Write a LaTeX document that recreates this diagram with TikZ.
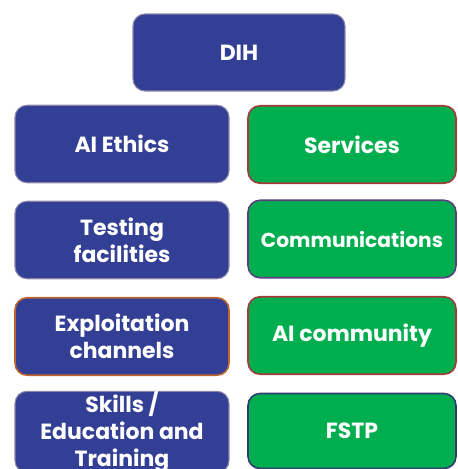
\documentclass[tikz,border=0pt]{standalone}
\usepackage{fontspec}
\setsansfont{Poppins}
\usepackage{xcolor}
\usepackage{tikz}

\definecolor{dihblue}{HTML}{333F95}
\definecolor{dihgreen}{HTML}{00AE4F}
\definecolor{edgegray}{HTML}{8A84A8}
\definecolor{edgered}{HTML}{A23A3A}
\definecolor{edgepurple}{HTML}{5A3F7E}
\definecolor{edgeorange}{HTML}{C0652E}
\definecolor{edgenavy}{HTML}{2F3B70}

\begin{document}
\begin{tikzpicture}[x=0.02cm,y=-0.02cm,
		box/.style={rounded corners=0.24cm, inner sep=0pt, text=white, align=center, line width=0.6pt,
			font=\sffamily\bfseries\fontsize{12.5}{15.5}\selectfont},
		leftbox/.style={box, fill=dihblue, minimum width=4.28cm, minimum height=1.55cm},
		rightbox/.style={box, fill=dihgreen, minimum width=4.16cm, minimum height=1.55cm}]
		\path[use as bounding box, clip] (0,0) rectangle (457,469);
		\node[box, fill=dihblue, draw=edgegray, minimum width=4.24cm, minimum height=1.54cm] (dih) at (239,52.5) {DIH};
		\node[leftbox, draw=edgegray] (ethics) at (122,144) {AI Ethics};
		\node[leftbox, draw=edgegray] (testing) at (122,240) {Testing\\facilities};
		\node[leftbox, draw=edgeorange, line width=0.9pt] (exploit) at (122,336.5) {Exploitation\\channels};
		\node[leftbox, draw=edgegray, minimum height=1.5cm] (skills) at (122,432) {Skills /\\Education and\\Training};
		\node[rightbox, draw=edgered, line width=0.9pt] (services) at (352,144.5) {Services};
		\node[rightbox, draw=edgepurple, line width=0.9pt, font=\sffamily\bfseries\fontsize{11.5}{14}\selectfont] (comms) at (352,239) {Communications};
		\node[rightbox, draw=edgered, line width=0.9pt] (community) at (352,335.5) {AI community};
		\node[rightbox, draw=edgenavy, line width=0.9pt, minimum height=1.5cm] (fstp) at (352,431) {FSTP};
		\end{tikzpicture}
\end{document}
